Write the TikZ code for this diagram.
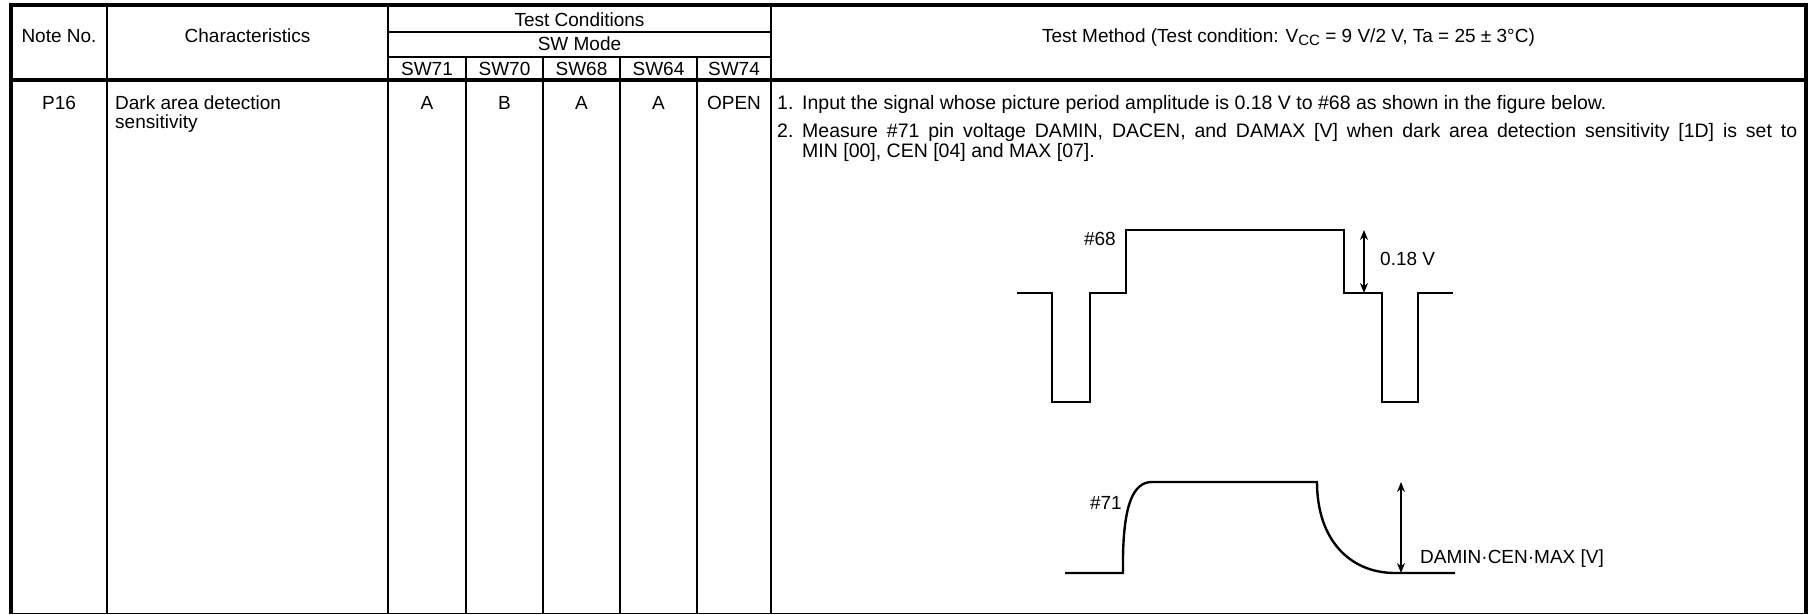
\documentclass[tikz,border=0pt]{standalone}
\usepackage{fontspec}
\setmainfont{Liberation Sans}
\usetikzlibrary{arrows.meta}
\begin{document}
\begin{tikzpicture}[x=1pt,y=-1pt,
  thickline/.style={line width=3.2pt, line join=miter},
  thinline/.style={line width=1.6pt},
  wave/.style={line width=2.4pt, line join=miter},
  txt/.style={font=\fontsize{19}{18}\selectfont, inner sep=0pt, anchor=base},
  txtl/.style={txt, anchor=base west},
  txtr/.style={txt, anchor=base east},
  mtxt/.style={font=\fontsize{19.5}{18}\selectfont, inner sep=0pt, anchor=base west},
  dimarrow/.style={line width=1.3pt, {Stealth[length=10pt,width=8pt]}-{Stealth[length=10pt,width=8pt]}},
]
\useasboundingbox (0,0) rectangle (1816,615);
% table grid
\draw[thinline] (107,5) -- (107,614) (388,5) -- (388,614) (771,5) -- (771,614);
\draw[thinline] (388,32) -- (771,32) (388,57) -- (771,57);
\draw[thinline] (466,57) -- (466,614) (543,57) -- (543,614) (620,57) -- (620,614) (697,57) -- (697,614);
\draw[line width=1.5pt] (11,613.5) -- (1806,613.5);
\draw[thickline] (11,614) -- (11,5) -- (1806,5) -- (1806,614);
\draw[thickline] (11,80) -- (1806,80);
% header
\node[txt] (hnote) at (59,43) {Note No.};
\node[txt] (hchar) at (247.5,43) {Characteristics};
\node[txt] (htc) at (579.5,27) {Test Conditions};
\node[txt] (hsw) at (579.5,51) {SW Mode};
\node[txt] (h71) at (427,76) {SW71};
\node[txt] (h70) at (504.5,76) {SW70};
\node[txt] (h68) at (581.5,76) {SW68};
\node[txt] (h64) at (658.5,76) {SW64};
\node[txt] (h74) at (734,76) {SW74};
\node[txt] (htm) at (1288.5,43) {Test Method (Test condition: V\raisebox{-3pt}{\fontsize{15}{15}\selectfont CC} = 9 V/2 V, Ta = 25 ± 3°C)};
% body
\node[txt] (p16) at (59,110) {P16};
\node[txtl] (c1) at (115,110) {Dark area detection};
\node[txtl] (c2) at (115,129) {sensitivity};
\node[txt] (v71) at (427,110) {A};
\node[txt] (v70) at (504.5,110) {B};
\node[txt] (v68) at (581.5,110) {A};
\node[txt] (v64) at (658.5,110) {A};
\node[txt] (v74) at (734,110) {OPEN};
\node[mtxt] (n1) at (777,110) {1.};
\node[mtxt] (t1) at (802,110) {Input the signal whose picture period amplitude is 0.18 V to \#68 as shown in the figure below.};
\node[mtxt] (n2) at (777,138) {2.};
\node[mtxt] (t2) at (802,138) {\makebox[995pt][s]{Measure \#71 pin voltage DAMIN, DACEN, and DAMAX [V] when dark area detection sensitivity [1D] is set to}};
\node[mtxt] (t3) at (802,157.5) {MIN [00], CEN [04] and MAX [07].};
% waveform #68
\draw[wave] (1017,293) -- (1052,293) -- (1052,402) -- (1090,402) -- (1090,293) -- (1126,293) -- (1126,230) -- (1344,230) -- (1344,293) -- (1382,293) -- (1382,402) -- (1418,402) -- (1418,293) -- (1453,293);
\node[txtr] (l68) at (1116,245) {\#68};
\coordinate (a1) at (1364,230);
\coordinate (a2) at (1364,293);
\draw[dimarrow] (a1) -- (a2);
\node[txtl] (l018) at (1380,265) {0.18 V};
% waveform #71
\draw[wave] (1065,573) -- (1123,573) -- (1123,556) .. controls (1124,505) and (1133,482) .. (1152,482) -- (1317,482) .. controls (1317,540) and (1350,573) .. (1395,573) -- (1455,573);
\node[txtr] (l71) at (1122,509) {\#71};
\coordinate (b1) at (1401,482);
\coordinate (b2) at (1401,573);
\draw[dimarrow] (b1) -- (b2);
\node[txtl] (ldam) at (1420,563) {DAMIN·CEN·MAX [V]};
\end{tikzpicture}
\end{document}
